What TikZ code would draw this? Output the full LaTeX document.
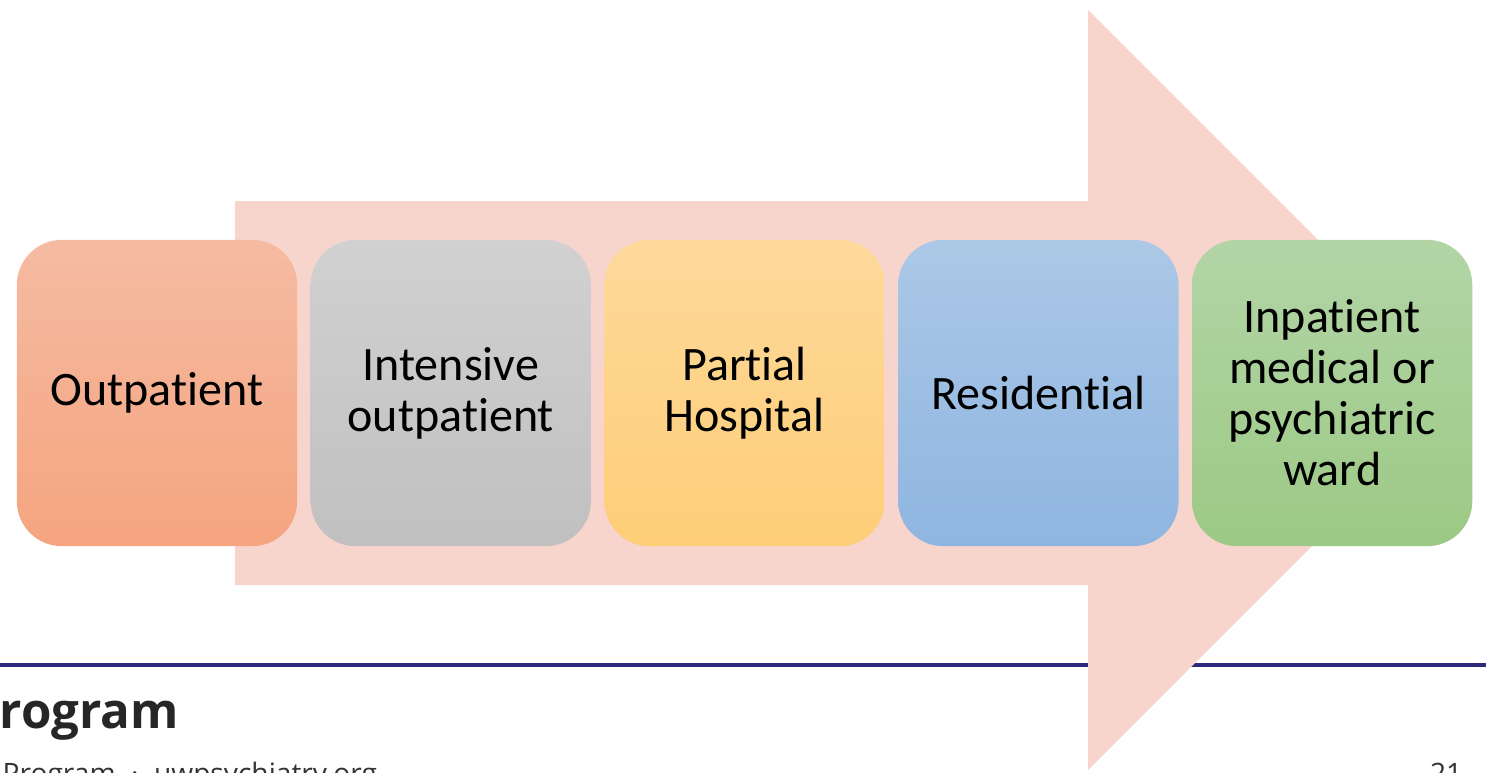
\documentclass[tikz,border=0pt]{standalone}
\usepackage{fontspec}
\setmainfont{Carlito}[Ligatures={NoCommon}]
\newfontfamily\footfont{Open Sans}
\usetikzlibrary{positioning}
\definecolor{arrowpink}{HTML}{F8D5CC}
\definecolor{rulenavy}{HTML}{2B2A7E}
\tikzset{
    level/.style={rectangle, rounded corners=12.8pt, minimum width=79.7pt, minimum height=87.1pt,
        inner sep=0pt, outer sep=0pt, align=center, font=\fontsize{13.66}{14.5}\selectfont},
}
\begin{document}
\begin{tikzpicture}[x=0.01cm, y=-0.01cm]
    \useasboundingbox (0,0) rectangle (1486,772);
    \clip (0,0) rectangle (1486,772);

    \draw[rulenavy, line width=4*0.2845pt] (0,665)--(1486,665);
    \fill[arrowpink] (235,201)--(1088,201)--(1088,10)--(1468,390)--(1088,770)--(1088,585)--(235,585)--cycle;

    \node[level, top color={rgb,255:red,245;green,187;blue,162}, bottom color={rgb,255:red,245;green,164;blue,127}] (outpat) at (157,393) {Outpatient};
    \node[level, right=0.135cm of outpat, top color={rgb,255:red,209;green,209;blue,209}, bottom color={rgb,255:red,192;green,192;blue,192}] (intens) {Intensive\\outpatient};
    \node[level, right=0.135cm of intens, top color={rgb,255:red,254;green,217;blue,154}, bottom color={rgb,255:red,254;green,206;blue,120}] (partial) {Partial\\Hospital};
    \node[level, right=0.135cm of partial, top color={rgb,255:red,171;green,200;blue,230}, bottom color={rgb,255:red,143;green,181;blue,225}] (resid) {Residential};
    \node[level, right=0.135cm of resid, top color={rgb,255:red,179;green,213;blue,166}, bottom color={rgb,255:red,156;green,201;blue,133}] (inpat) {Inpatient\\medical or\\psychiatric\\ward};

    \node[anchor=base west, inner sep=0pt, font=\footfont\bfseries\fontsize{14}{16}\selectfont, text=black!85] (prog) at (-1,728) {rogram};
    \node[anchor=base west, inner sep=0pt, font=\footfont\fontsize{8}{9}\selectfont, text=black!80] (site) at (2,783) {Program\hspace{0.55em}\textperiodcentered\hspace{0.55em}uwpsychiatry.org};
    \node[anchor=base east, inner sep=0pt, font=\footfont\fontsize{8}{9}\selectfont, text=black!80] (page) at (1463,783) {21};
\end{tikzpicture}
\end{document}
